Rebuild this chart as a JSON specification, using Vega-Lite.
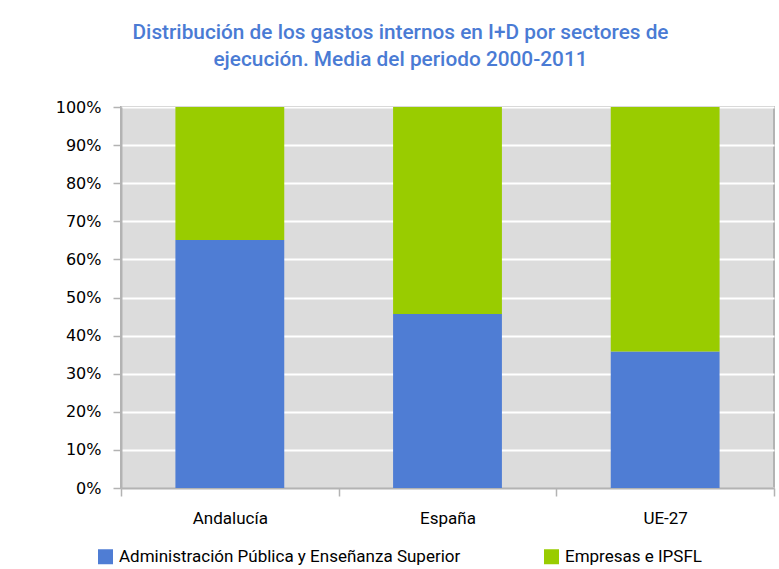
{
  "$schema": "https://vega.github.io/schema/vega-lite/v6.json",
  "autosize": "none",
  "width": 653,
  "height": 381,
  "padding": {"left": 121, "top": 107, "right": 5, "bottom": 81},
  "background": "white",
  "title": {
    "text": ["Distribución de los gastos internos en I+D por sectores de", "ejecución. Media del periodo 2000-2011"],
    "font": "Roboto",
    "fontSize": 20.8,
    "fontWeight": 500,
    "color": "#4a7bd4",
    "lineHeight": 27,
    "anchor": "middle",
    "frame": "group",
    "dx": -47,
    "offset": 28
  },
  "data": {
    "values": [
      {"region": "Andalucía", "sector": "Administración Pública y Enseñanza Superior", "value": 0.651},
      {"region": "Andalucía", "sector": "Empresas e IPSFL", "value": 0.349},
      {"region": "España", "sector": "Administración Pública y Enseñanza Superior", "value": 0.457},
      {"region": "España", "sector": "Empresas e IPSFL", "value": 0.543},
      {"region": "UE-27", "sector": "Administración Pública y Enseñanza Superior", "value": 0.358},
      {"region": "UE-27", "sector": "Empresas e IPSFL", "value": 0.642}
    ]
  },
  "mark": {"type": "bar", "width": {"band": 0.5}},
  "encoding": {
    "x": {
      "field": "region",
      "type": "nominal",
      "sort": ["Andalucía", "España", "UE-27"],
      "scale": {"paddingInner": 0, "paddingOuter": 0},
      "axis": {
        "title": null,
        "labelAngle": 0,
        "tickBand": "extent",
        "tickSize": 8,
        "tickColor": "#b3b3b3",
        "tickWidth": 1.5,
        "domainColor": "#b3b3b3",
        "domainWidth": 2,
        "labelFont": "Roboto",
        "labelFontSize": 17,
        "labelColor": "#000000",
        "labelPadding": 14
      }
    },
    "y": {
      "field": "value",
      "type": "quantitative",
      "stack": "zero",
      "scale": {"domain": [0, 1], "nice": false},
      "axis": {
        "title": null,
        "format": ".0%",
        "values": [0, 0.1, 0.2, 0.3, 0.4, 0.5, 0.6, 0.7, 0.8, 0.9, 1],
        "labelOverlap": false,
        "grid": true,
        "gridColor": "#ffffff",
        "gridWidth": 2,
        "tickSize": 8,
        "tickColor": "#b3b3b3",
        "tickWidth": 1.5,
        "domainColor": "#b3b3b3",
        "domainWidth": 2,
        "labelFont": "DejaVu Sans",
        "labelFontSize": 16,
        "labelColor": "#000000",
        "labelPadding": 12
      }
    },
    "color": {
      "field": "sector",
      "type": "nominal",
      "scale": {
        "domain": ["Administración Pública y Enseñanza Superior", "Empresas e IPSFL"],
        "range": ["#4f7dd4", "#99cc00"]
      },
      "legend": {
        "title": null,
        "orient": "none",
        "legendX": -24,
        "legendY": 441,
        "direction": "horizontal",
        "columns": 2,
        "columnPadding": 82,
        "padding": 0,
        "symbolType": "square",
        "symbolSize": 225,
        "symbolStrokeWidth": 0,
        "symbolOpacity": 1,
        "labelFont": "Roboto",
        "labelFontSize": 17,
        "labelColor": "#000000",
        "labelOffset": 5,
        "labelLimit": 500
      }
    },
    "order": {"field": "sector", "sort": "ascending"}
  },
  "config": {
    "view": {"fill": "#dcdcdc", "stroke": "#b3b3b3", "strokeWidth": 2}
  }
}
